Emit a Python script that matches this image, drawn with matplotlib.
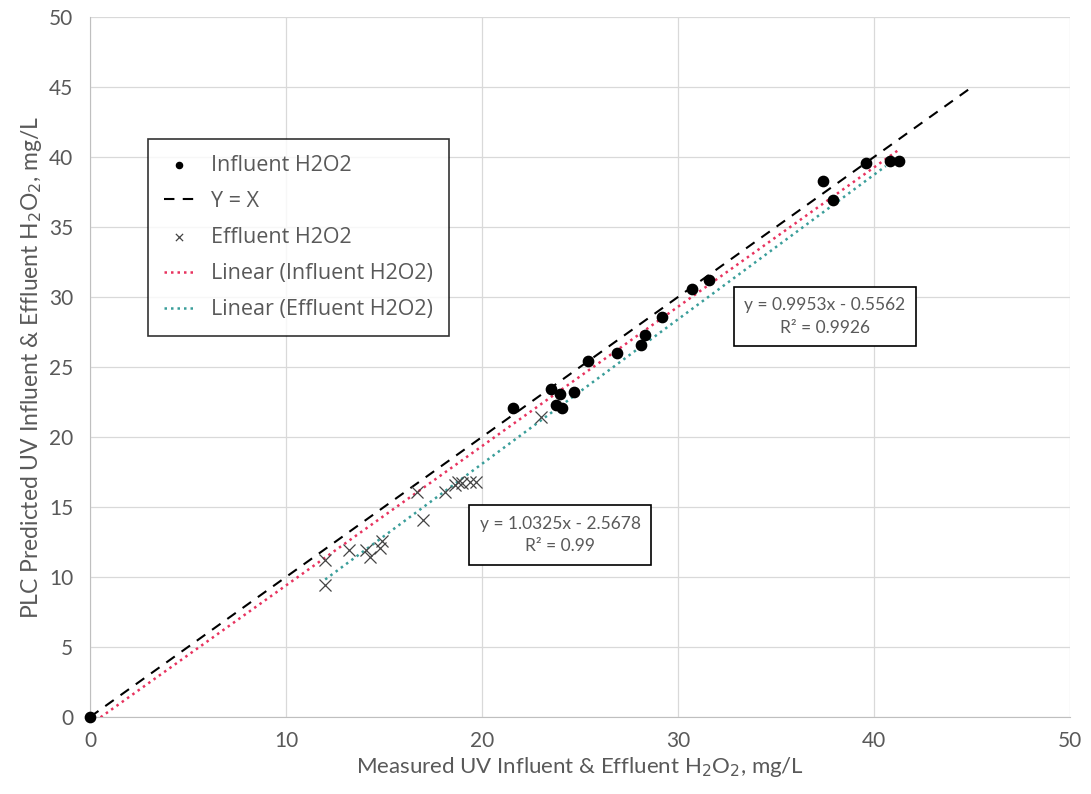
import numpy as np
import matplotlib.pyplot as plt

# measured vs PLC predicted H2O2, mg/L
inf_x = [0.0, 21.6, 23.5, 24.0, 23.8, 24.1, 24.7, 25.4, 26.9, 28.1, 28.3, 29.2,
         30.7, 31.6, 37.4, 37.9, 39.6, 40.8, 41.3]
inf_y = [0.0, 22.1, 23.4, 23.1, 22.3, 22.1, 23.2, 25.4, 26.0, 26.6, 27.3, 28.6,
         30.6, 31.2, 38.3, 36.9, 39.6, 39.7, 39.7]

eff_x = [12.0, 12.0, 13.2, 14.1, 14.3, 14.8, 14.9, 16.7, 17.0, 18.1, 18.6, 18.8,
         19.0, 19.4, 19.7, 23.0]
eff_y = [9.4, 11.2, 11.9, 11.9, 11.4, 12.1, 12.6, 16.1, 14.1, 16.1, 16.6, 16.8,
         16.7, 16.8, 16.8, 21.4]

inf_fit = (0.9953, -0.5562, 0.9926)
eff_fit = (1.0325, -2.5678, 0.99)

plt.rcParams['font.family'] = ['Lato', 'DejaVu Sans']

fig = plt.figure(figsize=(10.91, 7.94), dpi=100)
ax = fig.add_axes([90 / 1091, 77 / 794, 980 / 1091, 700 / 794])

ax.scatter(inf_x, inf_y, s=55, color='black', marker='o', label='Influent H2O2',
           zorder=4, clip_on=False)
ax.plot([0, 45], [0, 45], color='black', linestyle=(0, (5, 4)), lw=1.5, label='Y = X', zorder=3)
ax.scatter(eff_x, eff_y, s=75, color='#444444', marker='x', linewidths=0.9,
           label='Effluent H2O2', zorder=4)

xi = np.array([0, max(inf_x)])
ax.plot(xi, inf_fit[0] * xi + inf_fit[1], color='#e8335f', linestyle=(0, (1, 1.6)),
        lw=1.8, label='Linear (Influent H2O2)', zorder=3)
xe = np.array([min(eff_x), 40.6])
ax.plot(xe, eff_fit[0] * xe + eff_fit[1], color='#3a9e9a', linestyle=(0, (1, 1.6)),
        lw=1.8, label='Linear (Effluent H2O2)', zorder=3)

ax.set_xlim(0, 50)
ax.set_ylim(0, 50)
ax.set_xticks(range(0, 51, 10))
ax.set_yticks(range(0, 51, 5))
ax.grid(True, color='#d9d9d9', lw=0.9)
ax.set_axisbelow(True)
for s in ['top', 'right']:
    ax.spines[s].set_visible(False)
for s in ['left', 'bottom']:
    ax.spines[s].set_color('#bfbfbf')
ax.tick_params(length=0, labelsize=15, labelcolor='#595959', pad=12)
ax.tick_params(axis='x', pad=10)
ax.set_xlabel('Measured UV Influent & Effluent H$_2$O$_2$, mg/L', fontsize=16,
              color='#595959', labelpad=3)
ax.set_ylabel('PLC Predicted UV Influent & Effluent H$_2$O$_2$, mg/L', fontsize=16.5,
              color='#595959', labelpad=4)

leg = ax.legend(loc='upper left', bbox_to_anchor=(0.059, 0.826), borderaxespad=0,
                prop={'family': ['Open Sans', 'DejaVu Sans'], 'size': 15.5},
                frameon=True, fancybox=False, handlelength=1.4, labelspacing=0.7,
                borderpad=0.75, markerscale=0.6, labelcolor='#595959')
leg.get_frame().set_edgecolor('black')
leg.get_frame().set_linewidth(1.2)

box = dict(boxstyle='square,pad=0.6', facecolor='white', edgecolor='black', lw=1.2)
ax.text(37.5, 28.6, 'y = %.4fx - %.4f\nR² = %.4f' % (inf_fit[0], -inf_fit[1], inf_fit[2]),
        ha='center', va='center', fontsize=12.5, color='#595959', bbox=box,
        linespacing=1.5, zorder=5)
ax.text(24.0, 13.0, 'y = %.4fx - %.4f\nR² = %.2f' % (eff_fit[0], -eff_fit[1], eff_fit[2]),
        ha='center', va='center', fontsize=12.5, color='#595959', bbox=box,
        linespacing=1.5, zorder=5)

fig.savefig('out.png', dpi=100)
